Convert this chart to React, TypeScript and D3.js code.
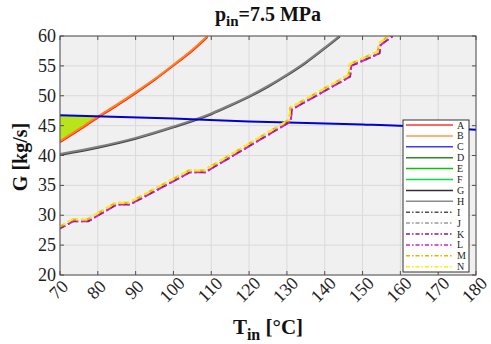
import React from "react";
import * as d3 from "d3";

const W = 491, H = 344;
const M = { left: 60, right: 476, top: 36, bottom: 275 };

const xTicks = [70, 80, 90, 100, 110, 120, 130, 140, 150, 160, 170, 180];
const yTicks = [20, 25, 30, 35, 40, 45, 50, 55, 60];

// Series values (T in °C, G in kg/s)
const tRed = [70, 75, 80, 85, 90, 95, 100, 105, 109];
const gRed = [42.25, 44.25, 46.35, 48.35, 50.45, 52.65, 55.05, 57.55, 59.85];
const tOrange = [70, 75, 80, 85, 90, 95, 100, 105, 109];
const gOrange = [42.4, 44.4, 46.5, 48.5, 50.6, 52.8, 55.2, 57.7, 60.0];
const tBlue = [70, 100, 120, 150, 165, 180];
const gBlue = [46.75, 46.2, 45.7, 45.2, 44.85, 44.3];
const tGray = [70, 80, 90, 100, 110, 115, 120, 125, 130, 135, 140, 144];
const gGrayDark = [40.1, 41.3, 42.8, 44.7, 46.9, 48.3, 49.8, 51.5, 53.4, 55.5, 57.9, 59.9];
const gGray = [40.25, 41.45, 42.95, 44.85, 47.05, 48.45, 49.95, 51.65, 53.55, 55.65, 58.05, 60.05];
const tStep = [70, 73.5, 77.5, 85, 88.5, 104.4, 108.4, 131.0, 131.3, 146.7, 147.0, 154.5, 154.8, 158.0];
const gStep = [27.8, 29.0, 29.0, 31.8, 31.8, 37.2, 37.2, 45.7, 47.7, 53.2, 55.0, 57.1, 58.5, 60.0];
const tStepY = [70, 73.2, 77.2, 84.7, 88.2, 104.1, 108.1, 130.6, 130.9, 146.3, 146.6, 154.0, 154.3, 157.5];
const gStepY = [28.1, 29.3, 29.3, 32.1, 32.1, 37.5, 37.5, 46.0, 48.0, 53.5, 55.3, 57.4, 58.8, 60.3];

const legendNames = ["A", "B", "C", "D", "E", "F", "G", "H", "I", "J", "K", "L", "M", "N"];
const legendColors = ["#ff3333", "#ff9a4a", "#3b3bff", "#2a8a2a", "#00c800", "#00e040", "#303030", "#8a8a8a", "#505050", "#9a9a9a", "#8c1a8c", "#d020d0", "#e0b800", "#ffee00"];
const legendDashed = [false, false, false, false, false, false, false, false, true, true, true, true, true, true];

const x = d3.scaleLinear().domain([70, 180]).range([M.left, M.right]);
const y = d3.scaleLinear().domain([20, 60]).range([M.bottom, M.top]);

function pts(t: number[], g: number[]): [number, number][] {
  return t.map((v, i) => [v, g[i]]);
}
const smooth = d3.line<[number, number]>().x(d => x(d[0])).y(d => y(d[1])).curve(d3.curveMonotoneX);
const straight = d3.line<[number, number]>().x(d => x(d[0])).y(d => y(d[1]));

function interp(t: number[], g: number[], v: number) {
  return d3.scaleLinear().domain(t).range(g).clamp(true)(v);
}

// Fill region: where orange is below blue
const fillTop: [number, number][] = [];
const fillBot: [number, number][] = [];
for (let v = 70; v <= 90; v += 0.05) {
  const b = interp(tBlue, gBlue, v);
  const o = interp(tOrange, gOrange, v);
  if (o <= b) {
    fillTop.push([v, b]);
    fillBot.push([v, o]);
  }
}
const fillPoly = [...fillTop, ...fillBot.reverse()];

const serif = "'Liberation Serif', 'Times New Roman', serif";
const DASH = "6,3,2,3";

export default function App() {
  const pw = M.right - M.left, ph = M.bottom - M.top;
  const legX = 403, legY = 120, legW = 66, legH = 152, rowH = 10.9;
  return (
    <svg width={W} height={H} style={{ position: "absolute", left: 0, top: 0, background: "#fff" }} fontFamily={serif}>
      <defs>
        <clipPath id="plotclip">
          <rect x={M.left} y={M.top} width={pw} height={ph} />
        </clipPath>
      </defs>
      <rect x={M.left} y={M.top} width={pw} height={ph} fill="#f0f0f0" />
      {xTicks.map(t => (
        <line key={"gx" + t} x1={x(t)} x2={x(t)} y1={M.top} y2={M.bottom} stroke="#dadada" strokeWidth={1} />
      ))}
      {yTicks.map(t => (
        <line key={"gy" + t} x1={M.left} x2={M.right} y1={y(t)} y2={y(t)} stroke="#dadada" strokeWidth={1} />
      ))}
      <g clipPath="url(#plotclip)">
        <path d={straight(fillPoly) || ""} fill="#b8e41c" stroke="none" />
        <path d={smooth(pts(tRed, gRed)) || ""} fill="none" stroke="#ff1a1a" strokeWidth={2} />
        <path d={smooth(pts(tOrange, gOrange)) || ""} fill="none" stroke="#ff7f1a" strokeWidth={2} />
        <path d={smooth(pts(tGray, gGrayDark)) || ""} fill="none" stroke="#404040" strokeWidth={2} />
        <path d={smooth(pts(tGray, gGray)) || ""} fill="none" stroke="#808080" strokeWidth={2} />
        <path d={smooth(pts(tBlue, gBlue)) || ""} fill="none" stroke="#0000d0" strokeWidth={2} />
        <path d={straight(pts(tStep, gStep)) || ""} fill="none" stroke="#8c1a8c" strokeWidth={2} strokeDasharray={DASH} />
        <path d={straight(pts(tStep, gStep)) || ""} fill="none" stroke="#d020d0" strokeWidth={2} strokeDasharray={DASH} strokeDashoffset={5} />
        <path d={straight(pts(tStepY, gStepY)) || ""} fill="none" stroke="#e0b800" strokeWidth={2} strokeDasharray={DASH} />
        <path d={straight(pts(tStepY, gStepY)) || ""} fill="none" stroke="#ffee00" strokeWidth={2} strokeDasharray={DASH} strokeDashoffset={5} />
      </g>
      <rect x={M.left} y={M.top} width={pw} height={ph} fill="none" stroke="#505050" strokeWidth={1} />
      {xTicks.map(t => (
        <g key={"tx" + t}>
          <line x1={x(t)} x2={x(t)} y1={M.bottom} y2={M.bottom - 4} stroke="#505050" />
          <line x1={x(t)} x2={x(t)} y1={M.top} y2={M.top + 4} stroke="#505050" />
          <text x={0} y={0} fontSize={18} textAnchor="middle" fill="#222"
            transform={`translate(${x(t)},${M.bottom + 16}) rotate(-45)`} dominantBaseline="middle">{t}</text>
        </g>
      ))}
      {yTicks.map(t => (
        <g key={"ty" + t}>
          <line x1={M.left} x2={M.left + 4} y1={y(t)} y2={y(t)} stroke="#505050" />
          <line x1={M.right} x2={M.right - 4} y1={y(t)} y2={y(t)} stroke="#505050" />
          <text x={M.left - 4} y={y(t) + 6} fontSize={18} textAnchor="end" fill="#222">{t}</text>
        </g>
      ))}
      <text x={268} y={21} fontSize={20} fontWeight="bold" textAnchor="middle" fill="#111">
        p<tspan fontSize={15} dy={5}>in</tspan><tspan dy={-5}>=7.5 MPa</tspan>
      </text>
      <text x={268} y={334} fontSize={21} fontWeight="bold" textAnchor="middle" fill="#111">
        T<tspan fontSize={16} dy={6}>in</tspan><tspan dy={-6}> [°C]</tspan>
      </text>
      <text transform={`translate(27,157) rotate(-90)`} fontSize={20} fontWeight="bold" textAnchor="middle" fill="#111">G [kg/s]</text>
      <rect x={legX} y={legY} width={legW} height={legH} fill="#fff" stroke="#333" strokeWidth={1} />
      {legendNames.map((n, i) => {
        const yy = legY + 5 + i * rowH;
        return (
          <g key={n}>
            <line x1={legX + 3} x2={legX + 50} y1={yy} y2={yy} stroke={legendColors[i]} strokeWidth={1.5}
              strokeDasharray={legendDashed[i] ? "4,2,1.5,2" : undefined} />
            <text x={legX + 54} y={yy + 3.5} fontSize={10} fill="#222">{n}</text>
          </g>
        );
      })}
    </svg>
  );
}
